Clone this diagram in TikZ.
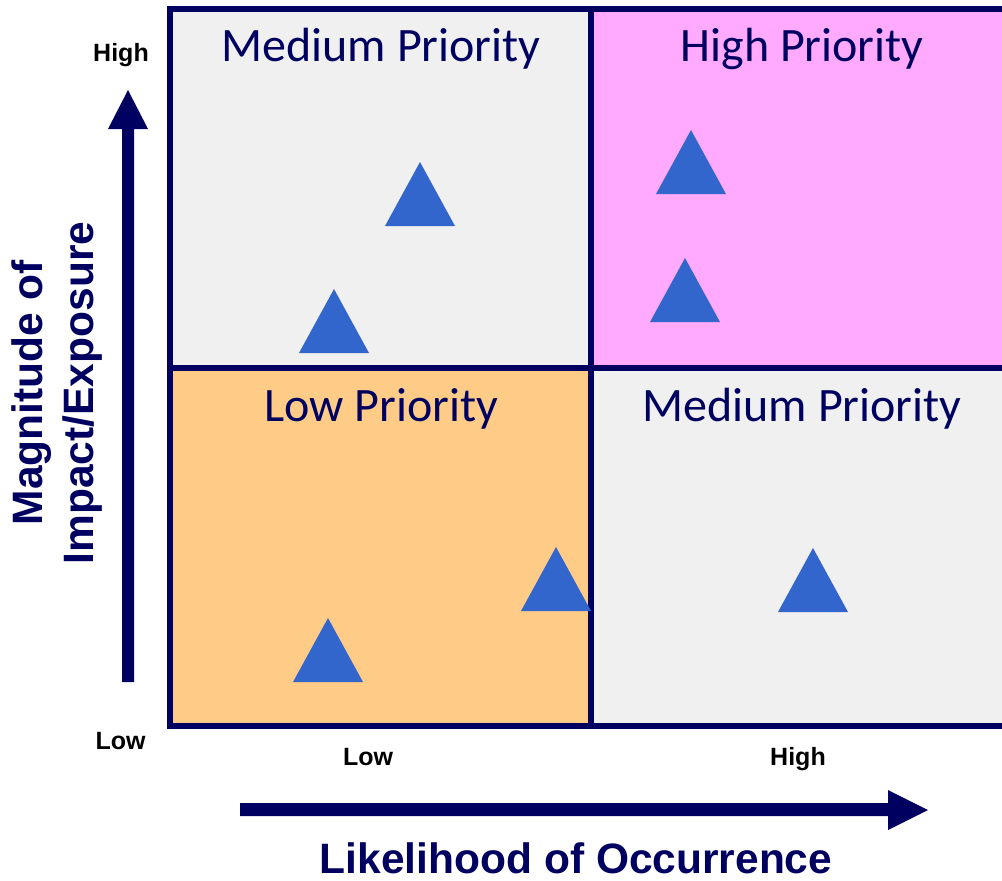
\documentclass[tikz,border=0pt]{standalone}
\usepackage{fontspec}
\setmainfont{Liberation Sans}
\newfontfamily\calib{Carlito}
\definecolor{navy}{RGB}{0,0,96}
\definecolor{cellgray}{RGB}{240,240,240}
\definecolor{cellpink}{RGB}{255,170,255}
\definecolor{cellorange}{RGB}{255,204,136}
\definecolor{triblue}{RGB}{51,102,204}
\tikzset{
  cell/.style={draw=navy, line width=5.5pt, minimum width=421pt, minimum height=359pt, inner sep=0pt, outer sep=0pt},
  title/.style={anchor=base, text=navy, font=\calib\fontsize{48}{56}\selectfont, inner sep=0pt},
  tick/.style={anchor=base, text=black, font=\bfseries\fontsize{25}{30}\selectfont, inner sep=0pt},
  axlabel/.style={anchor=base, text=navy, font=\bfseries\fontsize{42.5}{50}\selectfont, inner sep=0pt},
  marker/.pic={\fill[triblue] (0,-32) -- (35,32) -- (-35,32) -- cycle;}
}
\begin{document}
\begin{tikzpicture}[x=1pt,y=-1pt]
\useasboundingbox (0,0) rectangle (1002,881);
\begin{scope}
\clip (0,0) rectangle (1002,881);
% cells
\node[cell, fill=cellgray] (tl) at (380.5,188.5) {};
\node[cell, fill=cellpink] (tr) at (801.5,188.5) {};
\node[cell, fill=cellorange, minimum height=358pt] (bl) at (380.5,547) {};
\node[cell, fill=cellgray, minimum height=358pt] (br) at (801.5,547) {};
\draw[navy, line width=5.5pt] (591,9) -- (591,726);
\draw[navy, line width=5.5pt] (170,368) -- (1010,368);
% titles
\node[title] (ttl) at (381,61) {Medium Priority};
\node[title] (ttr) at (802,61) {High Priority};
\node[title] (tbl) at (381,421) {Low Priority};
\node[title] (tbr) at (802,421) {Medium Priority};
% markers
\pic at (420,194) {marker};
\pic at (334,321) {marker};
\pic at (691,162) {marker};
\pic at (685,290) {marker};
\pic at (556,579) {marker};
\pic at (328,650) {marker};
\pic at (813,580) {marker};
\end{scope}
% arrows
\fill[navy] (122,682) -- (122,129) -- (108,129) -- (128,90) -- (148,129) -- (134,129) -- (134,682) -- cycle;
\fill[navy] (240,803) -- (888,803) -- (888,790) -- (928,810) -- (888,830) -- (888,816) -- (240,816) -- cycle;
% tick labels
\node[tick] (yhigh) at (121,61) {High};
\node[tick] (ylow) at (120.5,749) {Low};
\node[tick] (xlow) at (368,765) {Low};
\node[tick] (xhigh) at (798,765) {High};
% axis labels
\node[axlabel] (xlab) at (576,873) {Likelihood of Occurrence};
\node[axlabel, rotate=90] (ylab1) at (42,393) {Magnitude of};
\node[axlabel, rotate=90] (ylab2) at (93,393) {Impact/Exposure};
\end{tikzpicture}
\end{document}
